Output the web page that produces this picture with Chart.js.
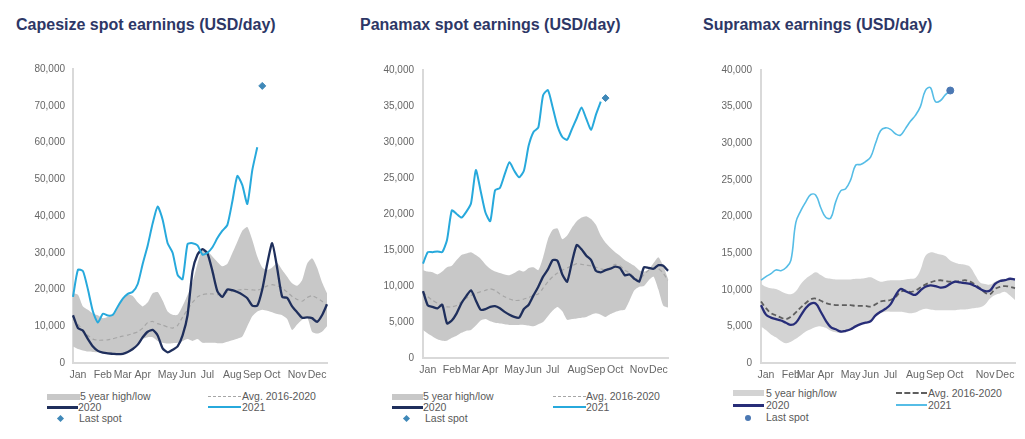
<!DOCTYPE html>
<html>
<head>
<meta charset="utf-8">
<script src="https://cdn.jsdelivr.net/npm/chart.js@4.4.0/dist/chart.umd.min.js"></script>
<style>
body { margin:0; background:#fff; width:1025px; height:439px; overflow:hidden; position:relative; font-family:"Liberation Sans", Arial, sans-serif; }
.title { position:absolute; top:16px; font-size:16px; line-height:18px; font-weight:bold; color:#2d3766; white-space:nowrap; }
.box { position:absolute; top:55px; height:330px; }
.lg { position:absolute; font-size:10.5px; line-height:11px; color:#595959; white-space:nowrap; }
.sw { position:absolute; }
</style>
</head>
<body>
<div class="title" style="left:16px">Capesize spot earnings (USD/day)</div>
<div class="title" style="left:360px">Panamax spot earnings (USD/day)</div>
<div class="title" style="left:703px">Supramax earnings (USD/day)</div>

<div class="box" style="left:0;width:340px"><canvas id="cape"></canvas></div>
<div class="box" style="left:340px;width:340px"><canvas id="pana"></canvas></div>
<div class="box" style="left:680px;width:345px"><canvas id="supra"></canvas></div>

<!-- legends -->
<div class="sw" style="left:47px;top:394px;width:33px;height:6px;background:#c8c8c8"></div>
<div class="lg" style="left:80px;top:391px">5 year high/low</div>
<div class="sw" style="left:208px;top:396px;width:33px;border-top:1.5px dashed #a6a6a6"></div>
<div class="lg" style="left:242px;top:391px">Avg. 2016-2020</div>
<div class="sw" style="left:47px;top:406px;width:31px;height:2.5px;background:#1f2f5c"></div>
<div class="lg" style="left:78px;top:402px">2020</div>
<div class="sw" style="left:208px;top:406px;width:33px;height:2px;background:#27a9dc"></div>
<div class="lg" style="left:242px;top:402px">2021</div>
<div class="sw" style="left:58px;top:416px;width:5px;height:5px;background:#3f88b8;transform:rotate(45deg)"></div>
<div class="lg" style="left:79px;top:413px">Last spot</div>

<div class="sw" style="left:392px;top:394px;width:31px;height:6px;background:#c8c8c8"></div>
<div class="lg" style="left:423px;top:391px">5 year high/low</div>
<div class="sw" style="left:553px;top:396px;width:33px;border-top:1.5px dashed #a6a6a6"></div>
<div class="lg" style="left:586px;top:391px">Avg. 2016-2020</div>
<div class="sw" style="left:392px;top:406px;width:31px;height:2.5px;background:#1f2f5c"></div>
<div class="lg" style="left:423px;top:402px">2020</div>
<div class="sw" style="left:553px;top:406px;width:33px;height:2px;background:#27a9dc"></div>
<div class="lg" style="left:586px;top:402px">2021</div>
<div class="sw" style="left:404px;top:416px;width:5px;height:5px;background:#3f88b8;transform:rotate(45deg)"></div>
<div class="lg" style="left:425px;top:413px">Last spot</div>

<div class="sw" style="left:733px;top:390px;width:31px;height:6px;background:#d3d3d3"></div>
<div class="lg" style="left:766px;top:388px">5 year high/low</div>
<div class="sw" style="left:896px;top:392px;width:31px;border-top:2px dashed #5f5f5f"></div>
<div class="lg" style="left:928px;top:388px">Avg. 2016-2020</div>
<div class="sw" style="left:733px;top:404px;width:31px;height:2.5px;background:#272d78"></div>
<div class="lg" style="left:766px;top:400px">2020</div>
<div class="sw" style="left:896px;top:404px;width:31px;height:1.6px;background:#56bde6"></div>
<div class="lg" style="left:928px;top:400px">2021</div>
<div class="sw" style="left:745px;top:415px;width:6px;height:6px;border-radius:50%;background:#4b78b3"></div>
<div class="lg" style="left:766px;top:412px">Last spot</div>

<script>
// weekly data, 52 weeks
const monthTicks = ['Jan', 'Feb', 'Mar', 'Apr', 'May', 'Jun', 'Jul', 'Aug', 'Sep', 'Oct', 'Nov', 'Dec'];
const capeTickWeeks = [1, 6, 10, 14, 19, 23, 27, 32, 36, 40, 45, 49];
const panaTickWeeks = [1, 6, 10, 14, 19, 23, 27, 32, 36, 40, 45, 49];
const supraTickWeeks = [1, 6, 9, 13, 18, 22, 26, 31, 35, 39, 45, 49];

// Capesize
const capeHigh = [19000,18600,15400,14500,13500,13000,12200,12500,13100,15500,17500,18600,18200,16500,15400,16500,19000,19300,17000,14000,13100,13100,15500,18500,22000,27000,31000,30500,29000,27500,26300,27000,29900,33000,36000,37000,33500,29000,26000,25300,26000,27200,25300,23500,21700,21000,22500,27000,28500,26000,22000,19000];
const capeLow = [4500,3800,3400,3100,3000,2900,2800,2700,2600,2600,2700,3000,3500,5000,6500,7000,7000,6000,5500,5300,5400,5500,6000,6500,6000,6500,5500,5500,5500,5400,5400,5800,6200,6600,7200,10000,12700,14000,14500,14200,13800,13300,13000,12000,9000,10500,11800,12500,8500,8000,8500,10000];
const capeAvg = [12000,10500,9000,7500,6500,6200,6200,6300,6600,7000,7300,7600,8000,8500,9500,11000,11300,10700,10300,9800,9500,10200,12500,14500,16500,18000,18600,18800,18800,18600,18800,19200,19500,19800,20000,20000,19900,19800,20300,21000,21300,21000,20400,19300,18100,17300,16800,17800,18300,17700,16800,15600];
const cape2020 = [13000,9500,8800,6500,4500,3300,2800,2600,2500,2400,2500,3000,3800,5000,7000,8500,9000,7500,4000,2900,3600,4500,7500,13000,25000,29500,31000,29800,25000,19500,18000,20000,19800,19300,18600,17600,15600,15600,20000,27000,32600,25800,18000,17700,15400,13800,12300,12400,12200,11200,13000,16000];
const cape2021 = [18000,25400,25000,20000,14000,11000,13400,12900,13100,15400,17500,18800,19400,21500,27000,32000,38000,42600,39000,32600,30000,24000,22800,32400,32600,32000,29500,30000,31500,34000,36000,37600,44000,50900,48400,43300,52500,58700];
const capeSpot = 75400;
const capeSpotWeek = 38;

// Panamax
const panaHigh = [12200,12000,11900,11600,12000,12600,12800,13600,14300,14500,14700,14300,13800,13000,12400,12000,11800,11600,11500,11800,12200,12000,12500,12600,12200,14000,16500,17800,18000,16500,17000,18100,19000,19500,19700,19300,18500,17000,16000,15300,14700,14200,13600,13200,12800,12200,12000,12300,13200,14000,12800,11000];
const panaLow = [3900,3400,3000,2600,2400,2400,2800,3100,3500,3800,3900,4500,5200,5400,5100,4900,4800,4700,4600,4600,4600,4600,4500,4400,4700,5000,5800,6600,7100,6500,5300,5400,5500,5600,5700,6000,6200,6000,5700,6100,6400,6600,6700,8000,9400,9900,10000,10800,11300,9500,7300,7000];
const panaAvg = [9200,8500,8000,7600,7300,7100,7100,7300,7800,8300,8700,9000,9200,9400,9600,9400,8900,8500,8200,8000,8000,8200,8400,8700,8900,9700,10600,11300,11800,12200,12500,12800,13100,13000,12900,12800,12600,12400,12200,12600,13000,12800,12200,11800,11200,10800,11600,12200,12400,12400,11800,10800];
const pana2020 = [9300,7300,7100,6900,7400,4800,5200,6200,7600,8600,9400,8000,6700,6800,7100,7200,6900,6400,6000,5700,5600,6800,7400,8700,9900,11300,12300,13600,13500,11600,10600,13300,15700,15100,14200,13600,12100,11900,12200,12400,12700,12500,11500,11600,11000,10600,12600,12500,12400,12900,12800,12100];
const pana2021 = [13100,14700,14700,14800,14700,16400,20500,20000,19500,20300,21500,26100,23200,20200,19000,23300,23600,25500,27200,26000,25100,26000,29500,31400,32000,36500,37200,34800,32200,30700,30300,31800,33300,34800,33200,31700,33800,35600];
const panaSpot = 36100;
const panaSpotWeek = 38;

// Supramax
const supraHigh = [10800,10400,10200,10100,9800,9500,9400,9800,10800,11500,12000,12400,12000,11600,11500,11400,11400,11400,11400,11500,11500,11600,11700,11400,11100,11200,11300,11300,11300,11400,11500,11600,12700,14600,15100,15000,14800,14600,14000,13700,13500,13400,13100,12000,11000,10800,10700,11100,11400,11500,11400,11300];
const supraLow = [5000,4500,3900,3500,3000,2700,2900,3300,3800,4300,4600,4900,5000,4800,4400,4200,4100,4200,4500,4900,5200,5500,5800,6300,6800,7000,7000,7000,7000,6900,6800,6900,7200,7400,7300,7200,7200,7200,7200,7200,7300,7300,7400,7500,7600,8000,8800,9300,9500,9700,9200,8600];
const supraAvg = [8400,7500,6800,6500,6200,6000,6300,6900,7600,8200,8700,8800,8500,8200,8000,7900,7900,7900,7900,7800,7800,7800,7700,8000,8400,8500,8600,9000,9700,9900,9700,9900,10300,10700,11000,11200,11300,11200,11100,11100,11200,11300,11100,10700,10200,9600,9400,10100,10400,10500,10400,10200];
const supra2020 = [7900,6600,6200,6000,5800,5500,5200,5500,6500,7500,8100,8100,7000,5800,4900,4600,4300,4400,4600,5000,5300,5500,5700,6500,7000,7400,8000,9200,10100,9800,9500,9300,9900,10400,10600,10500,10300,10400,10800,11100,11000,10900,10800,10500,10100,9800,9900,10800,11200,11300,11500,11400];
const supra2021 = [11300,11800,12200,12700,12600,13000,14000,19200,20800,22000,23000,22900,21200,19900,19800,22000,23500,23800,25000,27000,27100,27500,28100,30000,31700,32100,31900,31300,31100,32000,33000,33800,35000,37200,37600,35700,35800,36600,37200];
const supraSpot = 37200;
const supraSpotWeek = 38;

function weekLabels(tickWeeks) {
    const labels = [];
    for (let i = 0; i < 52; i++) {
        const m = tickWeeks.indexOf(i);
        labels.push(m >= 0 ? monthTicks[m] : '');
    }
    return labels;
}

function spotSeries(week, value) {
    const arr = [];
    arr[week] = value;
    return arr;
}

function makeChart(id, o) {
    const none = 'rgba(0,0,0,0)';
    new Chart(document.getElementById(id), {
        type: 'line',
        data: {
            labels: weekLabels(o.tickWeeks),
            datasets: [
                { label: 'Last spot', data: spotSeries(o.spotWeek, o.spot), showLine: false,
                  pointStyle: o.spotStyle, pointRadius: o.spotRadius,
                  pointBackgroundColor: o.spotColor, pointBorderColor: o.spotColor },
                { label: '2021', data: o.y2021, borderColor: o.c2021, borderWidth: o.w2021,
                  pointRadius: 0, tension: o.tension },
                { label: '2020', data: o.y2020, borderColor: o.c2020, borderWidth: 2.3,
                  pointRadius: 0, tension: o.tension },
                { label: 'Avg. 2016-2020', data: o.avg, borderColor: o.cAvg, borderWidth: o.wAvg,
                  borderDash: o.dashAvg, pointRadius: 0, tension: o.tension },
                { label: '5 year high/low', data: o.high, borderColor: none, borderWidth: 0,
                  backgroundColor: o.cBand, fill: '+1', pointRadius: 0, tension: o.tension },
                { label: 'low', data: o.low, borderColor: none, borderWidth: 0,
                  fill: false, pointRadius: 0, tension: o.tension }
            ]
        },
        options: {
            responsive: true,
            maintainAspectRatio: false,
            animation: false,
            layout: { padding: { top: 13, right: o.padRight, bottom: 0, left: 0 } },
            plugins: { legend: { display: false }, tooltip: { enabled: false } },
            scales: {
                x: {
                    offset: false,
                    grid: { display: false, drawTicks: false },
                    border: { color: '#d9d9d9', width: 2 },
                    ticks: { autoSkip: false, maxRotation: 0, padding: o.xPad, color: '#666',
                             font: { size: 10.5, family: '"Liberation Sans Narrow", "Liberation Sans", Arial' } },
                    afterFit: s => { s.height = o.xHeight; }
                },
                y: {
                    min: 0, max: o.max,
                    grid: { display: false, drawTicks: false },
                    border: { color: '#d9d9d9', width: 2 },
                    ticks: { stepSize: o.step, padding: o.yPad, color: '#666',
                             font: { size: 10, family: '"Liberation Sans", Arial' },
                             callback: v => v.toLocaleString('en-US') },
                    afterFit: s => { s.width = o.yWidth; }
                }
            }
        }
    });
}

makeChart('cape', {
    high: capeHigh, low: capeLow, avg: capeAvg, y2020: cape2020, y2021: cape2021,
    spot: capeSpot, spotWeek: capeSpotWeek, tickWeeks: capeTickWeeks,
    max: 80000, step: 10000, yWidth: 73, padRight: 13, xHeight: 22, xPad: 6, yPad: 8,
    c2021: '#27a9dc', w2021: 2, c2020: '#1f2f5c', cAvg: '#a6a6a6', wAvg: 1.2, dashAvg: [4, 3],
    cBand: '#c8c8c8', spotColor: '#3f88b8', spotStyle: 'rectRot', spotRadius: 3.5, tension: 0.2
});

makeChart('pana', {
    high: panaHigh, low: panaLow, avg: panaAvg, y2020: pana2020, y2021: pana2021,
    spot: panaSpot, spotWeek: panaSpotWeek, tickWeeks: panaTickWeeks,
    max: 40000, step: 5000, yWidth: 83, padRight: 12, xHeight: 27, xPad: 6, yPad: 9,
    c2021: '#27a9dc', w2021: 2, c2020: '#1f2f5c', cAvg: '#a6a6a6', wAvg: 1.2, dashAvg: [4, 3],
    cBand: '#c8c8c8', spotColor: '#3f88b8', spotStyle: 'rectRot', spotRadius: 3.5, tension: 0.2
});

makeChart('supra', {
    high: supraHigh, low: supraLow, avg: supraAvg, y2020: supra2020, y2021: supra2021,
    spot: supraSpot, spotWeek: supraSpotWeek, tickWeeks: supraTickWeeks,
    max: 40000, step: 5000, yWidth: 81, padRight: 10, xHeight: 22, xPad: 6, yPad: 9,
    c2021: '#56bde6', w2021: 1.6, c2020: '#272d78', cAvg: '#5f5f5f', wAvg: 1.8, dashAvg: [5, 3],
    cBand: '#d3d3d3', spotColor: '#4b78b3', spotStyle: 'circle', spotRadius: 3.5, tension: 0.4
});
</script>
</body>
</html>
